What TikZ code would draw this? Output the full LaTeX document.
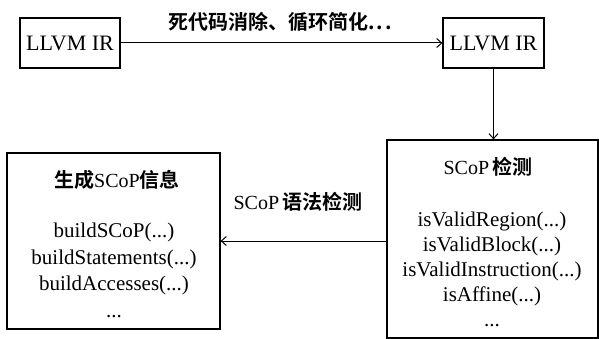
\documentclass[tikz,border=0pt]{standalone}
\usepackage{fontspec}
\setmainfont{Liberation Serif}
\newfontfamily\cjk{Noto Sans CJK SC}[UprightFont=* Bold]
\usetikzlibrary{arrows.meta}
\newcommand\zh[1]{{\cjk #1}}
\begin{document}
\begin{tikzpicture}[x=1pt,y=-1pt,
  box/.style={draw, line width=1.2pt, inner sep=0pt},
  conn/.style={line width=1pt, -{Straight Barb[length=5pt,width=9pt,line width=1pt]}},
  lbl/.style={inner sep=0pt, font=\fontsize{20}{24}\selectfont},
  body/.style={inner sep=0pt, align=center, anchor=north, font=\fontsize{21}{25}\selectfont}]
\useasboundingbox (0,0) rectangle (599,339);
% boxes
\node[box, minimum width=100pt, minimum height=50pt, font=\fontsize{22}{24}\selectfont] (ir1) at (70,43) {LLVM IR};
\node[box, minimum width=101pt, minimum height=50pt, font=\fontsize{22}{24}\selectfont] (ir2) at (493.5,43) {LLVM IR};
\node[box, minimum width=211pt, minimum height=198pt] (det) at (492.5,239) {};
\node[box, minimum width=213pt, minimum height=176pt] (gen) at (113.5,241) {};
% box contents
\node[lbl] (dettitle) at (488,167) {SCoP\,\zh{检测}};
\node[body] (detbody) at (492,212) {isValidRegion(...)\\isValidBlock(...)\\isValidInstruction(...)\\isAffine(...)\\...};
\node[lbl] (gentitle) at (117,180) {\zh{生成}SCoP\zh{信息}};
\node[body, font=\fontsize{21}{26.5}\selectfont] (genbody) at (114,223) {buildSCoP(...)\\buildStatements(...)\\buildAccesses(...)\\...};
% connector labels
\node[lbl] (toplbl) at (280,22) {\zh{死代码消除、循环简化.\kern2pt.\kern2pt.}};
\node[lbl] (midlbl) at (298,202) {SCoP\,\zh{语法检测}};
% connectors
\draw[conn] (ir1) -- (ir2);
\draw[conn] (ir2.south) -- (ir2.south |- det.north);
\draw[conn] (det.west |- gen.east) -- (gen.east);
\end{tikzpicture}
\end{document}
